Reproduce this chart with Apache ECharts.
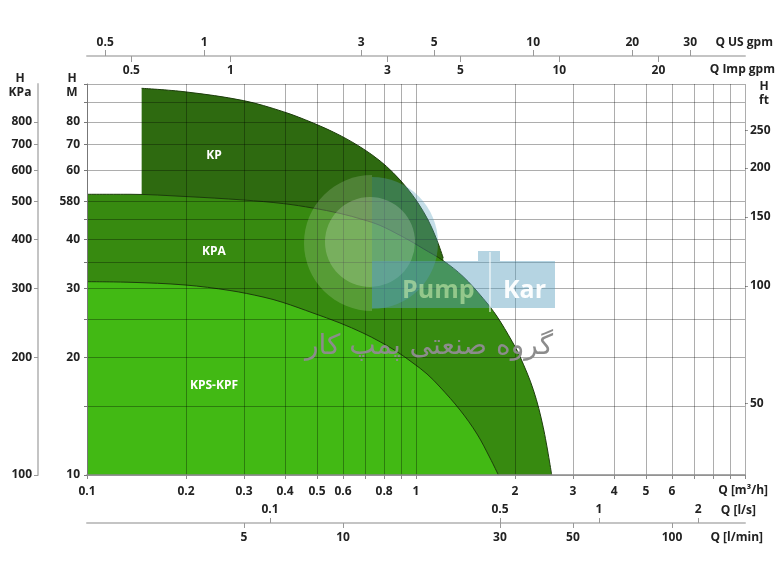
<!DOCTYPE html>
<html><head><meta charset="utf-8">
<script src="https://cdn.jsdelivr.net/npm/echarts@6/dist/echarts.min.js"></script>
<style>html,body{margin:0;padding:0;background:#fff}#c{width:780px;height:585px}</style>
</head><body><div id="c"></div>
<script>
// ---- data (Q in m3/h, H in m) ----
const kpQ = [0.1466, 0.1986, 0.2986, 0.395, 0.4874, 0.5875, 0.6916, 0.7775, 0.8512, 0.937, 1.014, 1.088, 1.15, 1.21];
const kpH = [97.5, 95.5, 90.7, 84.95, 79.43, 73.88, 68.24, 63.57, 59.36, 54.31, 49.63, 44.89, 40.47, 35.89];
const kpaQ = [0.1, 0.1351, 0.1986, 0.2986, 0.395, 0.4874, 0.5875, 0.6916, 0.7775, 0.8941, 0.9813, 1.052, 1.21, 1.392, 1.602, 1.76, 1.958, 2.07, 2.273, 2.438, 2.585];
const kpaH = [52.23, 52.23, 51.56, 50.51, 49.45, 48.15, 46.67, 44.97, 43.49, 41.01, 39.28, 37.92, 35.33, 32.15, 28.25, 25.49, 21.98, 20.1, 16.52, 13.2, 10];
const kpsQ = [0.1, 0.1351, 0.1986, 0.272, 0.3427, 0.394, 0.4864, 0.5875, 0.69, 0.7775, 0.8755, 0.979, 1.08, 1.183, 1.361, 1.533, 1.679, 1.78];
const kpsH = [31.22, 31.11, 30.62, 29.64, 28.53, 27.63, 25.96, 24.48, 23.08, 21.92, 20.67, 19.34, 18.13, 16.79, 14.66, 12.73, 11.05, 10];
const seriesNames = ['KP', 'KPA', 'KPS-KPF'];

// ---- tick / label values ----
const xGridVals = [0.1,0.2,0.3,0.4,0.5,0.6,0.7,0.8,0.9,1,2,3,4,5,6,7,8,9,10];
const xLabelVals = [0.1,0.2,0.3,0.4,0.5,0.6,0.8,1,2,3,4,5,6];
const yGridVals = [10,15,20,25,30,35,40,45,50,60,70,80,90,100];
const yLabelVals = [10,20,30,40,50,60,70,80];
const yLabelText = ['10','20','30','40','580','60','70','80'];
const kpaLabels = [100,200,300,400,500,600,700,800];
const ftLabels = [50,100,150,200,250];
const usGpmLabels = [0.5,1,3,5,10,20,30];
const impGpmLabels = [0.5,1,3,5,10,20];
const lsLabels = [0.1,0.5,1,2];
const lminLabels = [5,10,30,50,100];

const Q_MIN = 0.1, Q_MAX = 10, H_MIN = 10, H_MAX = 100;
const US_GPM = 4.40287, IMP_GPM = 3.66615, LS = 1/3.6, LMIN = 1000/60;
const KPA = 10, FT = 3.28084;

const FONT = 'Open Sans';
const lab = (extra) => Object.assign({fontFamily: FONT, fontWeight: 'bold', fontSize: 12, color: '#222'}, extra || {});
const fmt = v => String(+(+v).toPrecision(4));
const zip = (a, b) => a.map((v, i) => [v, b[i]]);

const chart = echarts.init(document.getElementById('c'));
const colors = ['#2e6a10', '#378a10', '#42b914'];

const option = {
  backgroundColor: '#fff',
  animation: false,
  grid: {left: 87, right: 35, top: 84, bottom: 110, containLabel: false},
  xAxis: [
    { // m3/h main
      type: 'log', min: Q_MIN, max: Q_MAX, position: 'bottom', z: 5,
      name: 'Q [m³/h]', nameLocation: 'end', nameGap: 23,
      nameTextStyle: lab({align: 'right', verticalAlign: 'top', padding: [10, 0, 0, 0]}),
      axisLine: {show: true, lineStyle: {color: '#8a8a8a', width: 1.5}},
      axisTick: {show: true, length: 4, customValues: xGridVals, lineStyle: {color: '#8a8a8a'}},
      axisLabel: lab({customValues: xLabelVals, margin: 11, formatter: fmt}),
      splitLine: {show: true, lineStyle: {color: 'rgba(0,0,0,0.32)', width: 1}},
      minorTick: {show: false}
    },
    { // l/s
      type: 'log', min: Q_MIN * LS, max: Q_MAX * LS, position: 'bottom', offset: 48,
      name: 'Q [l/s]', nameLocation: 'end', nameGap: 11,
      nameTextStyle: lab({align: 'right', verticalAlign: 'bottom', padding: [0, 0, 6, 0]}),
      axisLine: {show: true, lineStyle: {color: '#c4c4c4', width: 2}},
      axisTick: {show: true, inside: true, length: 5, customValues: lsLabels, lineStyle: {color: '#999'}},
      axisLabel: lab({inside: true, customValues: lsLabels, margin: 7, formatter: fmt}),
      splitLine: {show: false}
    },
    { // l/min
      type: 'log', min: Q_MIN * LMIN, max: Q_MAX * LMIN, position: 'bottom', offset: 48,
      name: 'Q [l/min]', nameLocation: 'end', nameGap: 18,
      nameTextStyle: lab({align: 'right', verticalAlign: 'top', padding: [9, 0, 0, 0]}),
      axisLine: {show: false},
      axisTick: {show: true, length: 5, customValues: lminLabels, lineStyle: {color: '#999'}},
      axisLabel: lab({customValues: lminLabels, margin: 9, formatter: fmt}),
      splitLine: {show: false}
    },
    { // US gpm
      type: 'log', min: Q_MIN * US_GPM, max: Q_MAX * US_GPM, position: 'top', offset: 28,
      name: 'Q US gpm', nameLocation: 'end', nameGap: 28,
      nameTextStyle: lab({align: 'right', verticalAlign: 'bottom', padding: [0, 0, 7, 0]}),
      axisLine: {show: true, lineStyle: {color: '#c4c4c4', width: 2}},
      axisTick: {show: true, length: 6, customValues: usGpmLabels, lineStyle: {color: '#999'}},
      axisLabel: lab({customValues: usGpmLabels, margin: 7, formatter: fmt}),
      splitLine: {show: false}
    },
    { // Imp gpm
      type: 'log', min: Q_MIN * IMP_GPM, max: Q_MAX * IMP_GPM, position: 'top', offset: 28,
      name: 'Q Imp gpm', nameLocation: 'end', nameGap: 30,
      nameTextStyle: lab({align: 'right', verticalAlign: 'top', padding: [8, 0, 0, 0]}),
      axisLine: {show: false},
      axisTick: {show: true, inside: true, length: 6, customValues: impGpmLabels, lineStyle: {color: '#999'}},
      axisLabel: lab({inside: true, customValues: impGpmLabels, margin: 9, formatter: fmt}),
      splitLine: {show: false}
    }
  ],
  yAxis: [
    { // H m
      type: 'log', min: H_MIN, max: H_MAX, position: 'left', z: 5,
      name: 'H\nM', nameLocation: 'end', nameGap: 12,
      nameTextStyle: lab({align: 'center', verticalAlign: 'top', lineHeight: 14, padding: [0, 30, 0, 0]}),
      axisLine: {show: true, lineStyle: {color: '#777', width: 1}},
      axisTick: {show: true, length: 3, customValues: yGridVals, lineStyle: {color: '#777'}},
      axisLabel: lab({customValues: yLabelVals, margin: 7,
        formatter: v => { const i = yLabelVals.findIndex(x => Math.abs(x - v) < 1e-6); return i >= 0 ? yLabelText[i] : fmt(v); }}),
      splitLine: {show: true, lineStyle: {color: 'rgba(0,0,0,0.32)', width: 1}}
    },
    { // kPa
      type: 'log', min: H_MIN * KPA, max: H_MAX * KPA, position: 'left', offset: 49,
      name: 'H\nKPa', nameLocation: 'end', nameGap: 12,
      nameTextStyle: lab({align: 'center', verticalAlign: 'top', lineHeight: 14, padding: [0, 36, 0, 0]}),
      axisLine: {show: true, lineStyle: {color: '#c4c4c4', width: 2}},
      axisTick: {show: true, length: 4, customValues: kpaLabels, lineStyle: {color: '#999'}},
      axisLabel: lab({customValues: kpaLabels, margin: 6, formatter: fmt}),
      splitLine: {show: false}
    },
    { // ft
      type: 'log', min: H_MIN * FT, max: H_MAX * FT, position: 'right',
      name: 'H\nft', nameLocation: 'end', nameGap: 4,
      nameTextStyle: lab({align: 'center', verticalAlign: 'top', lineHeight: 14, padding: [0, 0, 0, 38]}),
      axisLine: {show: false},
      axisTick: {show: true, length: 3, customValues: ftLabels, lineStyle: {color: '#999'}},
      axisLabel: lab({customValues: ftLabels, margin: 5, formatter: fmt}),
      splitLine: {show: false}
    }
  ],
  series: [
    {name: seriesNames[0], data: zip(kpQ, kpH), color: colors[0]},
    {name: seriesNames[1], data: zip(kpaQ, kpaH), color: colors[1]},
    {name: seriesNames[2], data: zip(kpsQ, kpsH), color: colors[2]}
  ].map((s, i) => Object.assign({
    type: 'line', xAxisIndex: 0, yAxisIndex: 0, smooth: 0.35, symbol: 'none', z: 2,
    lineStyle: {color: '#1d3d0c', width: 1},
    areaStyle: {color: colors[i], opacity: 1, origin: 'start'}
  }, s)),
  graphic: [
    // series labels
    {type: 'text', z: 20, style: {text: 'KP', x: 214, y: 156, align: 'center', verticalAlign: 'middle', fill: '#fff', font: 'bold 12px "Open Sans"'}},
    {type: 'text', z: 20, style: {text: 'KPA', x: 214, y: 252, align: 'center', verticalAlign: 'middle', fill: '#fff', font: 'bold 12px "Open Sans"'}},
    {type: 'text', z: 20, style: {text: 'KPS-KPF', x: 214, y: 386, align: 'center', verticalAlign: 'middle', fill: '#fff', font: 'bold 12px "Open Sans"'}},
    // watermark (faint logo)
    {type: 'sector', z: 10, shape: {cx: 372, cy: 243, r: 68, startAngle: Math.PI/2, endAngle: Math.PI*1.5}, style: {fill: 'rgba(255,255,255,0.16)'}},
    {type: 'sector', z: 10, shape: {cx: 372, cy: 243, r: 66, startAngle: -Math.PI/2, endAngle: Math.PI/2}, style: {fill: 'rgba(90,160,190,0.35)'}},
    {type: 'circle', z: 10, shape: {cx: 370, cy: 242, r: 45}, style: {fill: 'rgba(255,255,255,0.2)'}},
    {type: 'rect', z: 10, shape: {x: 372, y: 261, width: 183, height: 47}, style: {fill: 'rgba(90,160,190,0.45)'}},
    {type: 'rect', z: 10, shape: {x: 478, y: 251, width: 22, height: 10}, style: {fill: 'rgba(90,160,190,0.45)'}},
    {type: 'line', z: 11, shape: {x1: 490, y1: 252, x2: 490, y2: 312}, style: {stroke: 'rgba(255,255,255,0.7)', lineWidth: 1.5}},
    {type: 'text', z: 11, style: {text: 'Pump', x: 402, y: 291, verticalAlign: 'middle', fill: 'rgba(200,235,170,0.6)', font: 'bold 25px "Open Sans"'}},
    {type: 'text', z: 11, style: {text: 'Kar', x: 503, y: 291, verticalAlign: 'middle', fill: 'rgba(255,255,255,0.95)', font: 'bold 25px "Open Sans"'}},
    {type: 'text', z: 11, style: {text: 'گروه صنعتی پمپ کار', x: 553, y: 347, align: 'right', verticalAlign: 'middle', fill: '#8c8c8c', blend: 'multiply', font: '28px "DejaVu Sans"'}}
  ]
};
chart.setOption(option);
</script>
</body></html>
